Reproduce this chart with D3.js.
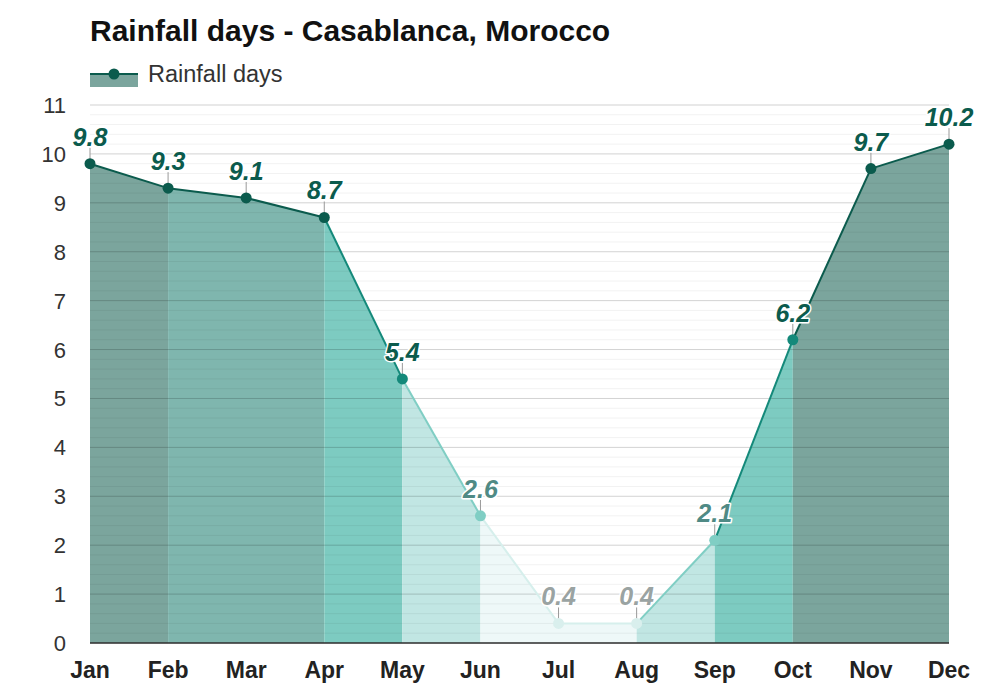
<!DOCTYPE html>
<html><head><meta charset="utf-8">
<script src="https://cdn.jsdelivr.net/npm/d3@7"></script>
<style>body{margin:0;background:#fff;font-family:"Liberation Sans",Arial,sans-serif}</style>
</head><body><svg id="c" width="1000" height="700"></svg>
<script>
const months = ["Jan","Feb","Mar","Apr","May","Jun","Jul","Aug","Sep","Oct","Nov","Dec"];
const rainDays = [9.8, 9.3, 9.1, 8.7, 5.4, 2.6, 0.4, 0.4, 2.1, 6.2, 9.7, 10.2];
const yTicks = [0,1,2,3,4,5,6,7,8,9,10,11];
// segment styling per interval (between month i and i+1)
const segFill = ["#7ba59d","#7fb6ae","#7fb6ae","#7dcbc1","#c1e6e3","#eef8f8","#eef8f8","#c1e6e3","#7dcbc1","#7ba59d","#7ba59d"];
const segLine = ["#0b5b4d","#0b5b4d","#0b5b4d","#14897a","#80cec4","#d6efec","#d6efec","#80cec4","#14897a","#0b5b4d","#0b5b4d"];
const ptColor = ["#0b5b4d","#0b5b4d","#0b5b4d","#0b5b4d","#14897a","#80cec4","#d9efed","#d9efed","#80cec4","#14897a","#0b5b4d","#0b5b4d"];
const lblColor = ["#0b5b4d","#0b5b4d","#0b5b4d","#0b5b4d","#0b5b4d","#4f8a85","#9aa3a2","#9aa3a2","#4f8a85","#0b5b4d","#0b5b4d","#0b5b4d"];

const svg = d3.select("#c");
const x = d3.scalePoint().domain(months).range([90, 949]);
const y = d3.scaleLinear().domain([0, 11]).range([643, 105]);

const data = months.map((m,i)=>({m, v: rainDays[i]}));
// fills: merge consecutive intervals that share a colour
const area = d3.area().x(d => x(d.m)).y0(y(0)).y1(d => y(d.v));
let start = 0;
for (let i = 1; i <= segFill.length; i++) {
  if (i === segFill.length || segFill[i] !== segFill[start]) {
    svg.append("path").attr("d", area(data.slice(start, i + 1))).attr("fill", segFill[start]);
    start = i;
  }
}
// grid
const minor = d3.range(0, 11.001, 0.2);
svg.append("g").selectAll("line").data(minor).join("line")
  .attr("x1", 90).attr("x2", 949).attr("y1", d=>y(d)).attr("y2", d=>y(d))
  .attr("stroke", "rgba(0,0,0,0.055)");
svg.append("g").selectAll("line").data(yTicks).join("line")
  .attr("x1", 90).attr("x2", 949).attr("y1", d=>y(d)).attr("y2", d=>y(d))
  .attr("stroke", "rgba(0,0,0,0.13)");
// baseline
svg.append("line").attr("x1",90).attr("x2",949).attr("y1",y(0)).attr("y2",y(0)).attr("stroke","#333").attr("stroke-width",1.5);

// lines
const line = d3.line().x(d => x(d.m)).y(d => y(d.v));
for (let i = 0; i < months.length - 1; i++) {
  svg.append("path").attr("d", line([data[i], data[i+1]])).attr("fill","none")
    .attr("stroke", segLine[i]).attr("stroke-width", 2);
}
// label ticks
svg.append("g").selectAll("line").data(data).join("line")
  .attr("x1", d=>x(d.m)).attr("x2", d=>x(d.m))
  .attr("y1", d=>y(d.v)-4).attr("y2", d=>y(d.v)-16)
  .attr("stroke","#999").attr("stroke-width",1);
// points
svg.append("g").selectAll("circle").data(data).join("circle")
  .attr("cx", d=>x(d.m)).attr("cy", d=>y(d.v)).attr("r", 5.5)
  .attr("fill", (d,i)=>ptColor[i]);
// value labels
svg.append("g").selectAll("text").data(data).join("text")
  .attr("x", d=>x(d.m)).attr("y", d=>y(d.v)-18)
  .attr("text-anchor","middle")
  .attr("font-size", 25).attr("font-weight","bold").attr("font-style","italic")
  .attr("fill", (d,i)=>lblColor[i])
  .attr("stroke","#fff").attr("stroke-width",3).attr("paint-order","stroke").attr("stroke-linejoin","round")
  .text(d=>d.v);

// y axis labels
svg.append("g").selectAll("text").data(yTicks).join("text")
  .attr("x", 66).attr("y", d=>y(d)+8).attr("text-anchor","end")
  .attr("font-size",22).attr("fill","#333").text(d=>d);
// x axis labels
svg.append("g").selectAll("text").data(months).join("text")
  .attr("x", d=>x(d)).attr("y", 678).attr("text-anchor","middle")
  .attr("font-size",23).attr("font-weight","bold").attr("fill","#222").text(d=>d);

// title
svg.append("text").attr("x",90).attr("y",41).attr("font-size",30).attr("font-weight","bold")
  .attr("fill","#111").text("Rainfall days - Casablanca, Morocco");
// legend
svg.append("rect").attr("x",90).attr("y",74).attr("width",48).attr("height",13).attr("fill","#7ba59d");
svg.append("line").attr("x1",90).attr("x2",138).attr("y1",74).attr("y2",74).attr("stroke","#0b5b4d").attr("stroke-width",2);
svg.append("circle").attr("cx",114).attr("cy",74).attr("r",5.5).attr("fill","#0b5b4d");
svg.append("text").attr("x",148).attr("y",82).attr("font-size",23.5).attr("fill","#333").text("Rainfall days");
</script></body></html>
